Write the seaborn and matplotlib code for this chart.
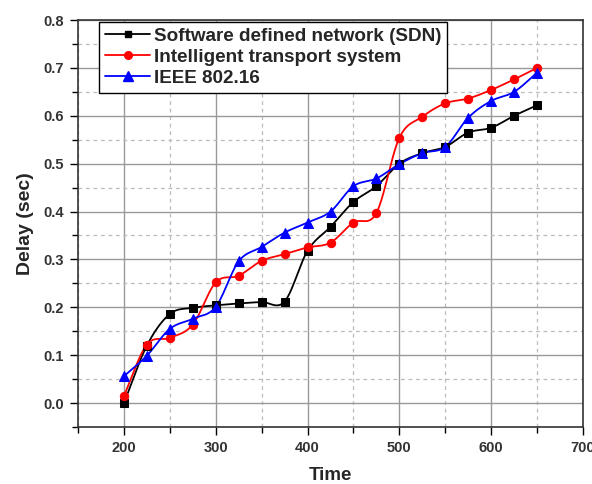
import numpy as np
import pandas as pd
import matplotlib
matplotlib.use("Agg")
import matplotlib.pyplot as plt
import seaborn as sns
from matplotlib.ticker import MultipleLocator

time = [200, 225, 250, 275, 300, 325, 350, 375, 400, 425,
        450, 475, 500, 525, 550, 575, 600, 625, 650]
sdn = [0.000, 0.120, 0.186, 0.199, 0.204, 0.208, 0.211, 0.212, 0.318, 0.368,
       0.420, 0.453, 0.500, 0.522, 0.535, 0.565, 0.575, 0.600, 0.622]
its = [0.015, 0.122, 0.136, 0.164, 0.252, 0.266, 0.297, 0.311, 0.325, 0.335,
       0.377, 0.397, 0.554, 0.598, 0.626, 0.636, 0.654, 0.676, 0.700]
ieee = [0.056, 0.099, 0.155, 0.176, 0.201, 0.296, 0.326, 0.356, 0.377, 0.400,
        0.453, 0.469, 0.499, 0.522, 0.535, 0.596, 0.631, 0.650, 0.690]

names = ["Software defined network (SDN)", "Intelligent transport system", "IEEE 802.16"]
colors = ["#000000", "#ff0000", "#0000ff"]
markers = ["s", "o", "^"]
msizes = [5.5, 6, 7.5]


def catmull_rom(x, y, n=24):
    x = np.asarray(x, float)
    y = np.asarray(y, float)
    px = np.concatenate([[2 * x[0] - x[1]], x, [2 * x[-1] - x[-2]]])
    py = np.concatenate([[2 * y[0] - y[1]], y, [2 * y[-1] - y[-2]]])
    xs, ys = [], []
    t = np.linspace(0, 1, n, endpoint=False)
    for i in range(1, len(px) - 2):
        for arr, out in ((px, xs), (py, ys)):
            p0, p1, p2, p3 = arr[i - 1], arr[i], arr[i + 1], arr[i + 2]
            out.append(0.5 * ((2 * p1) + (-p0 + p2) * t
                              + (2 * p0 - 5 * p1 + 4 * p2 - p3) * t ** 2
                              + (-p0 + 3 * p1 - 3 * p2 + p3) * t ** 3))
    xs.append([x[-1]])
    ys.append([y[-1]])
    return np.concatenate(xs), np.concatenate(ys)


sns.set_theme(style="white")
plt.rcParams["font.family"] = ["Liberation Sans", "DejaVu Sans"]

fig = plt.figure(figsize=(5.92, 4.84), dpi=100)
ax = fig.add_axes([78 / 592, 1 - 427 / 484, (583 - 78) / 592, (427 - 20) / 484])

for name, vals, c, m, ms in zip(names, [sdn, its, ieee], colors, markers, msizes):
    sx, sy = catmull_rom(time, vals)
    sns.lineplot(x=sx, y=sy, ax=ax, color=c, lw=1.3, sort=False, estimator=None, zorder=3)
    sns.lineplot(x=time, y=vals, ax=ax, color=c, marker=m, markersize=ms, lw=0,
                 markeredgecolor=c, estimator=None, zorder=4)

handles = [plt.Line2D([], [], color=c, marker=m, markersize=ms - 0.5, lw=1.3, markeredgecolor=c)
           for c, m, ms in zip(colors, markers, msizes)]
leg = ax.legend(handles, names, loc="upper left", bbox_to_anchor=(0.042, 0.995),
                prop={"weight": "bold", "size": 13.6}, frameon=True, fancybox=False,
                edgecolor="black", framealpha=1, borderpad=0.3, labelspacing=0.2,
                handlelength=2.4, handletextpad=0.2, borderaxespad=0)
leg.get_frame().set_linewidth(1.0)

ax.set_xlim(150, 700)
ax.set_ylim(-0.05, 0.8)
ax.xaxis.set_major_locator(MultipleLocator(100))
ax.xaxis.set_minor_locator(MultipleLocator(50))
ax.yaxis.set_major_locator(MultipleLocator(0.1))
ax.yaxis.set_minor_locator(MultipleLocator(0.05))
ax.set_xticks([200, 300, 400, 500, 600, 700])
ax.set_yticks([0.0, 0.1, 0.2, 0.3, 0.4, 0.5, 0.6, 0.7, 0.8])
ax.set_yticklabels(["0.0", "0.1", "0.2", "0.3", "0.4", "0.5", "0.6", "0.7", "0.8"])

ax.grid(True, which="major", color="#999999", lw=1.0, ls="-")
ax.grid(True, which="minor", color="#bbbbbb", lw=0.9, ls=(0, (3, 3)))
ax.set_axisbelow(True)

ax.tick_params(which="major", direction="out", length=6, width=1.0, color="black",
               labelsize=10.5, labelcolor="#333333", left=True, bottom=True, pad=4)
ax.tick_params(which="minor", direction="out", length=4, width=1.0, color="black",
               left=True, bottom=True)
for lbl in ax.get_xticklabels() + ax.get_yticklabels():
    lbl.set_fontweight("bold")
for s in ax.spines.values():
    s.set_color("#333333")
    s.set_linewidth(1.2)

ax.set_xlabel("Time", fontsize=13.5, fontweight="bold", labelpad=9)
ax.set_ylabel("Delay (sec)", fontsize=14, fontweight="bold", labelpad=7)

fig.savefig("out.png", dpi=100)
